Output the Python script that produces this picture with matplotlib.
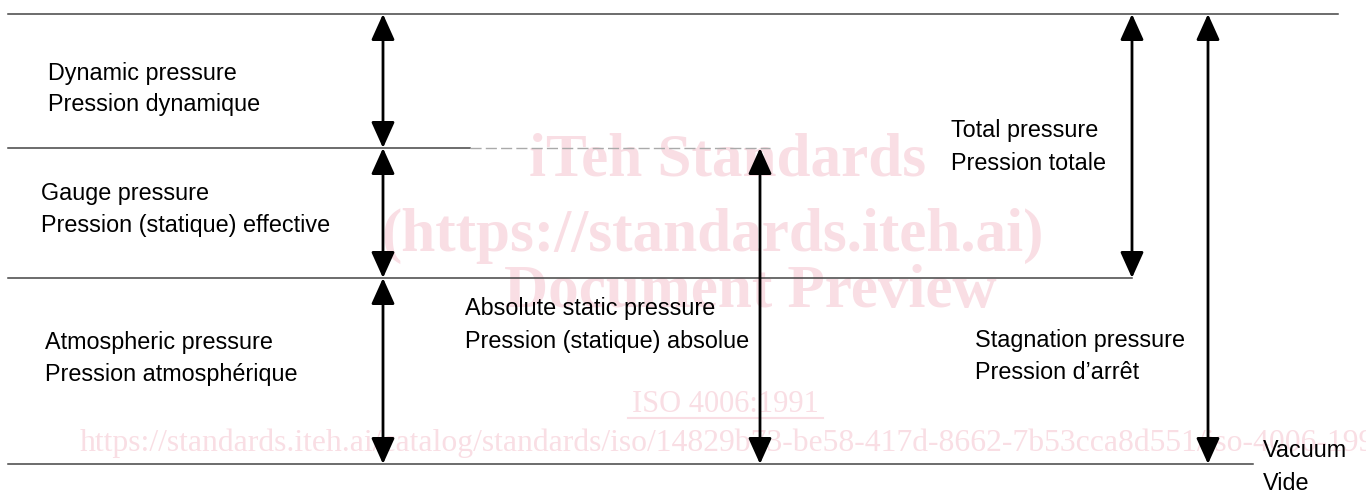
import matplotlib
matplotlib.use("Agg")
from matplotlib import pyplot as plt

# horizontal pressure levels (pixel rows of the sketch) and where each rule line ends
level_names = ["Total", "Static", "Atmospheric", "Vacuum"]
level_y = [14, 148, 278, 464]
level_x0 = [8, 8, 8, 8]
level_x1 = [1338, 470, 1132, 1253]
# faint continuation of the static level up to its arrow
faint_x = [470, 770]

# double-headed arrows: x, start level, end level
arrow_x = [383, 383, 383, 760, 1132, 1208]
arrow_y0 = [14, 148, 278, 148, 14, 14]
arrow_y1 = [148, 278, 464, 464, 278, 464]

# labels (english / french pairs)
label_text = ["Dynamic pressure", "Pression dynamique",
              "Gauge pressure", "Pression (statique) effective",
              "Atmospheric pressure", "Pression atmosphérique",
              "Absolute static pressure", "Pression (statique) absolue",
              "Total pressure", "Pression totale",
              "Stagnation pressure", "Pression d\u2019arrêt",
              "Vacuum", "Vide"]
label_x = [48, 48, 41, 41, 45, 45, 465, 465, 951, 951, 975, 975, 1263, 1263]
label_y = [80, 111, 200, 232, 349, 381, 315, 348, 137, 170, 347, 379, 457, 490]

# watermark
wm_text = ["iTeh Standards", "(https://standards.iteh.ai)", "Document Preview"]
wm_x = [728, 713, 750]
wm_y = [160, 236, 292]
iso_text = "ISO 4006:1991"
url_text = "https://standards.iteh.ai/catalog/standards/iso/14829b73-be58-417d-8662-7b53cca8d551/iso-4006-1991"

W, H = 1366, 493
fig = plt.figure(figsize=(W / 100, H / 100), dpi=100)
ax = fig.add_axes([0, 0, 1, 1])
ax.set_xlim(0, W)
ax.set_ylim(H, 0)
ax.axis("off")

pink = "#f9dee4"
for t, x, y in zip(wm_text, wm_x, wm_y):
    ax.text(x, y, t, family="Liberation Serif", weight="bold", fontsize=44,
            color=pink, ha="center", va="center", zorder=0)
ax.text(725, 405, iso_text, family="Liberation Serif", fontsize=22,
        color=pink, ha="center", va="center", zorder=0)
ax.plot([628, 823], [418, 418], color=pink, lw=1.5, zorder=0)
ax.text(80, 443, url_text, family="Liberation Serif", fontsize=22.8,
        color=pink, ha="left", va="center", zorder=0, clip_on=True)

for y, x0, x1 in zip(level_y, level_x0, level_x1):
    ax.plot([x0, x1], [y, y], color="#444444", lw=1.1, zorder=2)
ax.plot(faint_x, [level_y[1], level_y[1]], color="#aaaaaa", lw=1.0,
        ls=(0, (8, 3)), zorder=2)

for x, y0, y1 in zip(arrow_x, arrow_y0, arrow_y1):
    ax.annotate("", xy=(x, y1), xytext=(x, y0),
                arrowprops=dict(arrowstyle="<|-|>,head_length=0.8,head_width=0.36",
                                mutation_scale=20, color="black", lw=2,
                                shrinkA=0, shrinkB=0), zorder=3)

for t, x, y in zip(label_text, label_x, label_y):
    ax.text(x, y, t, family="Liberation Sans", fontsize=16.8, color="black",
            ha="left", va="baseline", zorder=4)

plt.savefig("out.png", dpi=100)
